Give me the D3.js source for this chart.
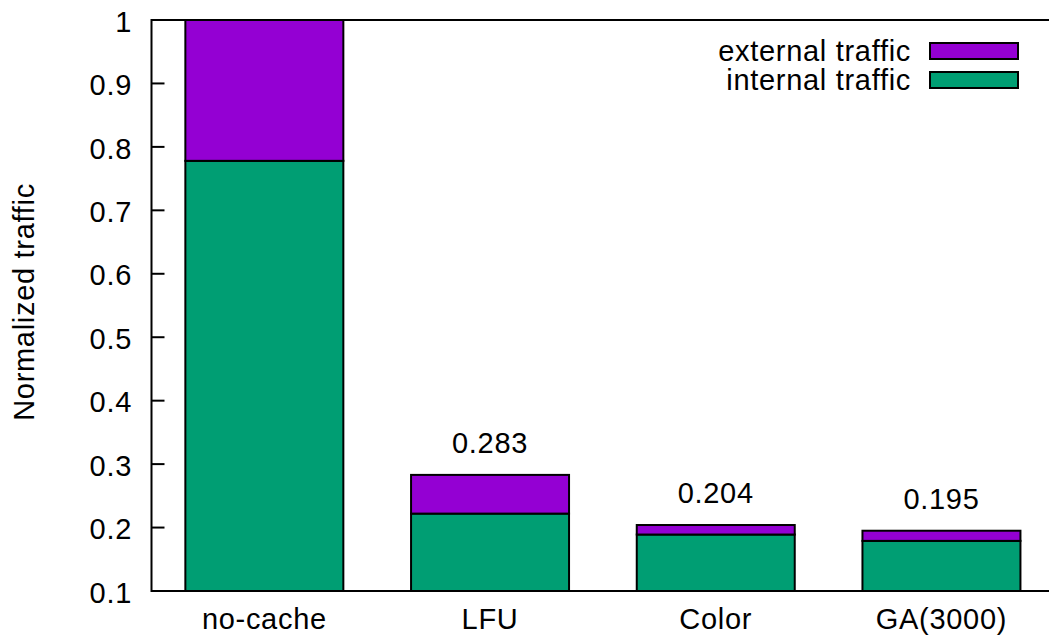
<!DOCTYPE html>
<html><head><meta charset="utf-8">
<script src="https://cdn.jsdelivr.net/npm/d3@7"></script>
<style>body{margin:0;background:#fff}text{font-family:"Liberation Sans",Arial,sans-serif;letter-spacing:0.7px}</style>
</head><body><svg id="c" width="1049" height="639"></svg>
<script>
const categories = ["no-cache","LFU","Color","GA(3000)"];
const internalTraffic = [0.778,0.222,0.189,0.179];
const externalTraffic = [0.222,0.061,0.015,0.016];
const totalLabels = [null,"0.283","0.204","0.195"];
const yTicks = [0.1,0.2,0.3,0.4,0.5,0.6,0.7,0.8,0.9,1];
const seriesNames = ["external traffic","internal traffic"];
const colors = {external:"#9400d3", internal:"#009e73"};

const svg = d3.select("#c");
const L = 151.5, T = 20, B = 591, step = 225.7;
const x = d3.scaleLinear().domain([-0.5,3.5]).range([L, L+4*step]);
const y = d3.scaleLinear().domain([0.1,1]).range([B,T]);
const fs = 29;
const bw = 0.7;

const g = svg.append("g");
categories.forEach((c,i)=>{
  const x0 = x(i-bw/2), x1 = x(i+bw/2);
  const inT = internalTraffic[i], tot = internalTraffic[i]+externalTraffic[i];
  g.append("rect").attr("x",x0).attr("y",y(inT)).attr("width",x1-x0).attr("height",y(0.1)-y(inT))
    .attr("fill",colors.internal).attr("stroke","#000").attr("stroke-width",2);
  g.append("rect").attr("x",x0).attr("y",y(tot)).attr("width",x1-x0).attr("height",y(inT)-y(tot))
    .attr("fill",colors.external).attr("stroke","#000").attr("stroke-width",2);
  if(totalLabels[i]) g.append("text").attr("x",x(i)).attr("y",y(tot+0.05)).attr("dy","0.35em")
    .attr("text-anchor","middle").attr("font-size",fs).text(totalLabels[i]);
  g.append("text").attr("x",x(i)).attr("y",619).attr("dy","0.35em").attr("text-anchor","middle")
    .attr("font-size",fs).text(c);
});
svg.append("line").attr("x1",L).attr("x2",1049).attr("y1",T).attr("y2",T).attr("stroke","#000").attr("stroke-width",2);
svg.append("line").attr("x1",L).attr("x2",1049).attr("y1",B).attr("y2",B).attr("stroke","#000").attr("stroke-width",2);
svg.append("line").attr("x1",L).attr("x2",L).attr("y1",T-1).attr("y2",B+1).attr("stroke","#000").attr("stroke-width",2);
yTicks.forEach(v=>{
  svg.append("line").attr("x1",L).attr("x2",L+13).attr("y1",y(v)).attr("y2",y(v)).attr("stroke","#000").attr("stroke-width",2);
  svg.append("text").attr("x",132).attr("y",y(v)+1.5).attr("dy","0.35em").attr("text-anchor","end")
    .attr("font-size",fs).text(d3.format("~g")(v));
});
svg.append("text").attr("transform","translate(23.5,302) rotate(-90)").attr("dy","0.35em")
  .attr("text-anchor","middle").attr("font-size",fs).text("Normalized traffic");
const legY = [51,80], legCol=[colors.external,colors.internal];
seriesNames.forEach((n,i)=>{
  svg.append("text").attr("x",911).attr("y",legY[i]).attr("dy","0.35em").attr("text-anchor","end")
    .attr("font-size",fs).text(n);
  svg.append("rect").attr("x",930).attr("y",legY[i]-8).attr("width",88).attr("height",16)
    .attr("fill",legCol[i]).attr("stroke","#000").attr("stroke-width",2);
});
</script></body></html>
